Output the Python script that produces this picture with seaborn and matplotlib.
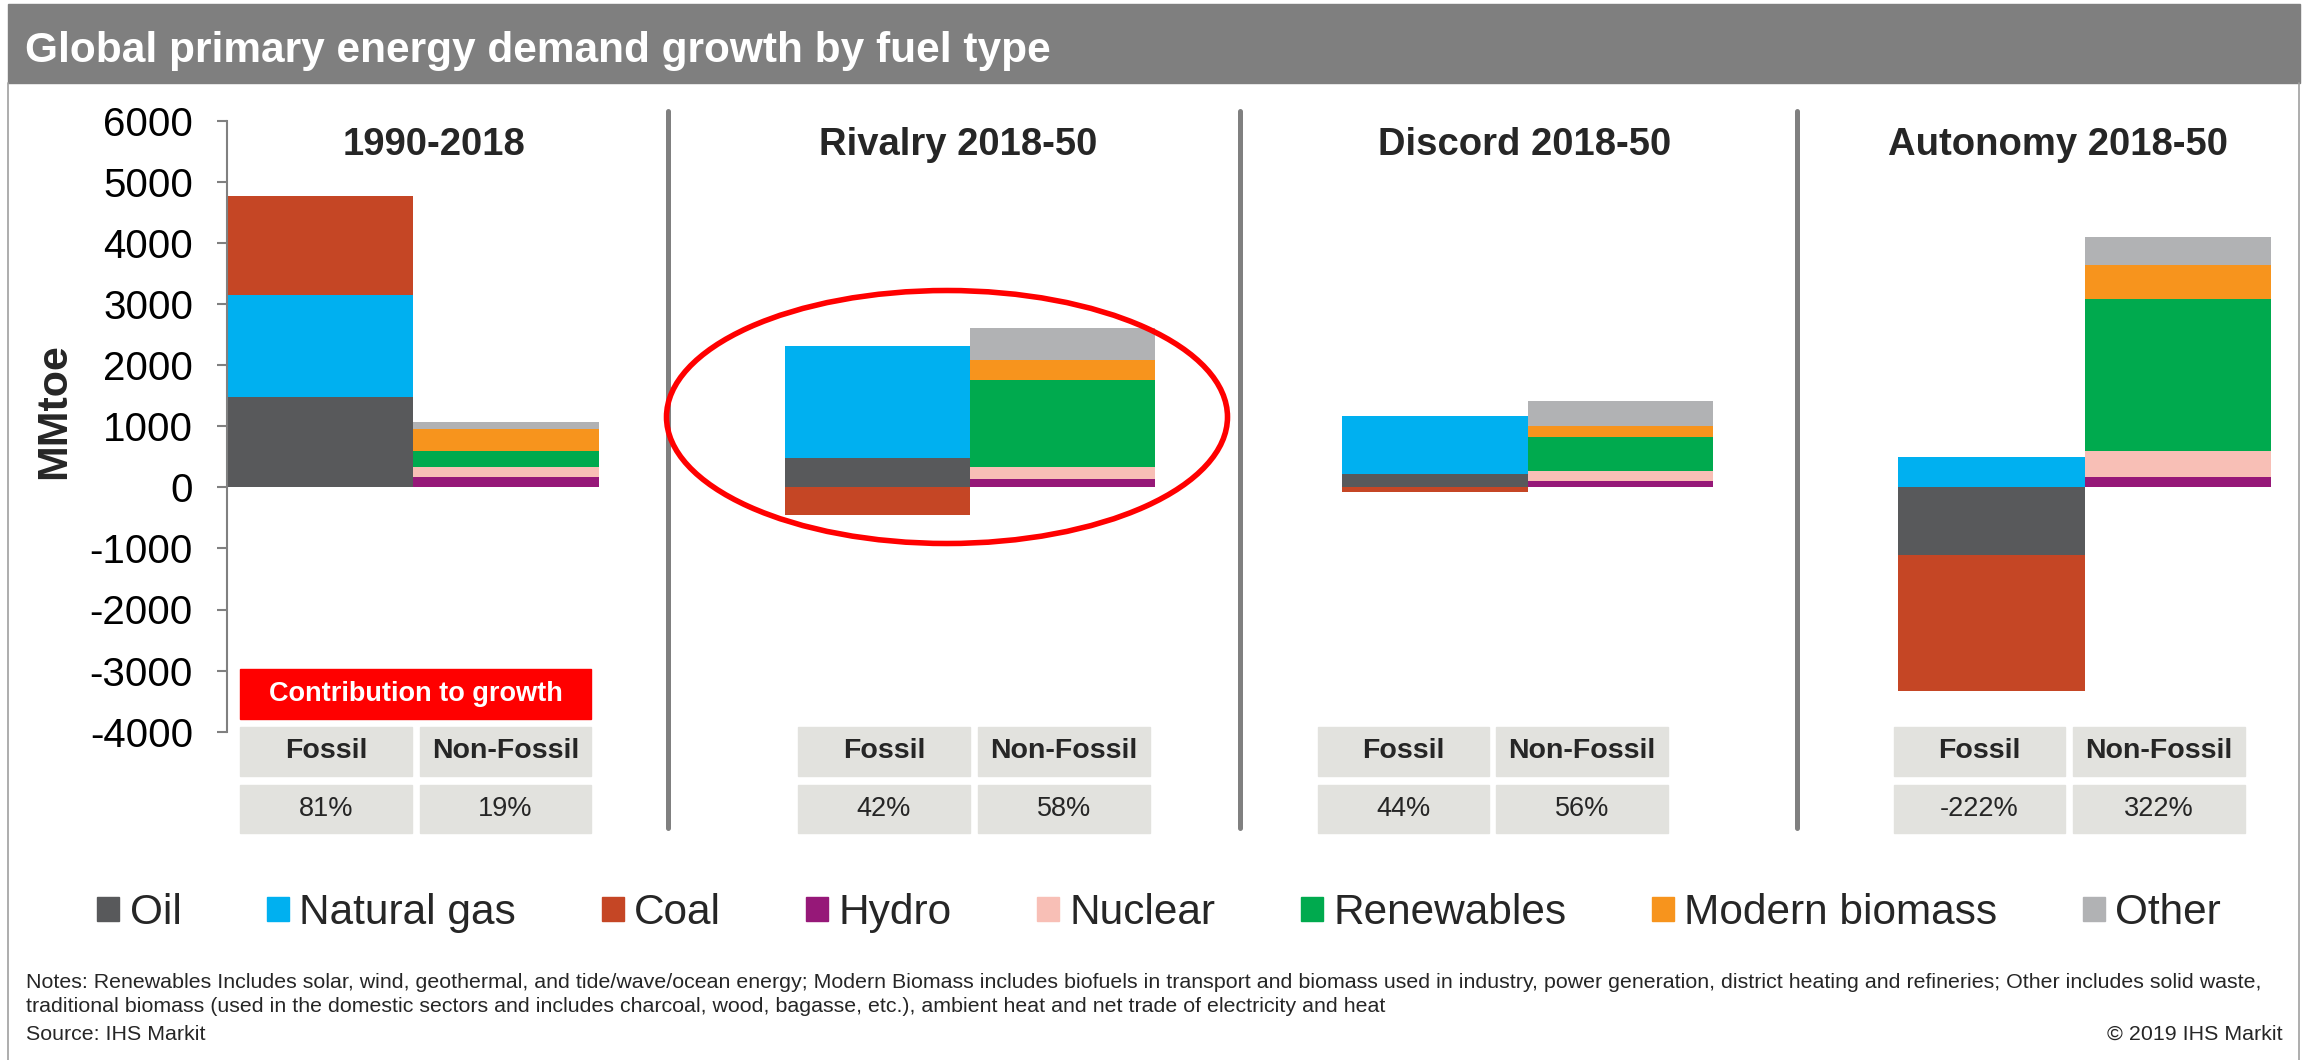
import pandas as pd
import seaborn as sns
import matplotlib.pyplot as plt
from matplotlib.patches import Rectangle, Ellipse, Patch
from matplotlib.lines import Line2D

# ---- data (MMtoe) ----
scenarios = ['1990-2018', 'Rivalry 2018-50', 'Discord 2018-50', 'Autonomy 2018-50']
groups = ['Fossil', 'Non-Fossil']
fuels = ['Oil', 'Natural gas', 'Coal', 'Hydro', 'Nuclear', 'Renewables', 'Modern biomass', 'Other']
fuel_group = ['Fossil'] * 3 + ['Non-Fossil'] * 5
fuel_colors = ['#58595b', '#00b0f0', '#c54625', '#961878', '#f8bfb6', '#00aa4e', '#f7941d', '#b1b2b4']

oil = [1475, 485, 225, -1110]
natural_gas = [1675, 1820, 945, 495]
coal = [1615, -455, -75, -2225]
hydro = [170, 135, 105, 165]
nuclear = [165, 195, 165, 430]
renewables = [265, 1425, 550, 2485]
modern_biomass = [360, 335, 185, 555]
other = [115, 520, 415, 465]

fossil_share = ['81%', '42%', '44%', '-222%']
nonfossil_share = ['19%', '58%', '56%', '322%']
yticks = list(range(-4000, 6001, 1000))

title = 'Global primary energy demand growth by fuel type'
notes = ['Notes: Renewables Includes solar, wind, geothermal, and tide/wave/ocean energy; Modern Biomass includes '
         'biofuels in transport and biomass used in industry, power generation, district heating and refineries; '
         'Other includes solid waste,',
         'traditional biomass (used in the domestic sectors and includes charcoal, wood, bagasse, etc.), '
         'ambient heat and net trade of electricity and heat']

# stack positives upwards and negatives downwards within each bar
series = [oil, natural_gas, coal, hydro, nuclear, renewables, modern_biomass, other]
rows = []
for i, scen in enumerate(scenarios):
    pos = {g: 0 for g in groups}
    neg = {g: 0 for g in groups}
    for fuel, grp, vals in zip(fuels, fuel_group, series):
        v = vals[i]
        if v >= 0:
            rows.append((scen, grp, fuel, v, pos[grp]))
            pos[grp] += v
        else:
            rows.append((scen, grp, fuel, v, neg[grp]))
            neg[grp] += v
df = pd.DataFrame(rows, columns=['scenario', 'group', 'fuel', 'value', 'bottom'])

# ---- figure ----
sns.set_theme(style='white')
plt.rcParams['font.family'] = ['Liberation Sans', 'DejaVu Sans']
plt.rcParams['axes.unicode_minus'] = False

W, H = 2305, 1060
fig = plt.figure(figsize=(W / 100, H / 100), dpi=100)


def fx(x):
    return x / W


def fy(y):
    return 1 - y / H


# title band and frame
fig.add_artist(Rectangle((fx(8), fy(83)), fx(2300) - fx(8), fy(4) - fy(83),
                         transform=fig.transFigure, color='#7f7f7f', zorder=0))
fig.text(fx(25), fy(62), title, color='white', fontsize=30.5, fontweight='bold', va='baseline')
for xl in (8, 2299):
    fig.add_artist(Line2D([fx(xl), fx(xl)], [fy(83), 0], transform=fig.transFigure,
                          color='#a0a0a0', lw=1.2))

# panels
panel_px = [(227, 599), (785, 1155), (1342, 1713), (1898, 2271)]
title_cx = [434, 958, 1525, 2058]
y_top, y_bot = 120.7, 731.7

for i, scen in enumerate(scenarios):
    x0, x1 = panel_px[i]
    ax = fig.add_axes([fx(x0), fy(y_bot), (x1 - x0) / W, (y_bot - y_top) / H])
    d = df[df['scenario'] == scen]
    for fuel, color in zip(fuels, fuel_colors):
        sub = d[d['fuel'] == fuel]
        sns.barplot(data=sub, x='group', y='value', order=groups, bottom=sub['bottom'].values,
                    color=color, saturation=1, width=1, errorbar=None, linewidth=0, ax=ax)
    ax.set_xlim(-0.5, 1.5)
    ax.set_ylim(-4000, 6000)
    ax.set_xlabel('')
    ax.set_ylabel('')
    ax.set_xticks([])
    for s in ('top', 'right', 'bottom'):
        ax.spines[s].set_visible(False)
    if i == 0:
        ax.set_yticks(yticks)
        ax.spines['left'].set_color('#808080')
        ax.spines['left'].set_linewidth(1.5)
        ax.tick_params(axis='y', left=True, length=7.5, width=1.5, color='#808080',
                       pad=17, labelsize=29, labelcolor='black')
    else:
        ax.spines['left'].set_visible(False)
        ax.set_yticks([])
    ax.patch.set_alpha(0)
    fig.text(fx(title_cx[i]), fy(155), scen, fontsize=27.5, fontweight='bold',
             ha='center', va='baseline')

fig.text(fx(54), fy(411), 'MMtoe', fontsize=31, fontweight='bold', rotation=90,
         ha='center', va='center')

# dividers between panels
for xd in (668, 1240, 1797):
    fig.add_artist(Line2D([fx(xd), fx(xd)], [fy(111), fy(828)], transform=fig.transFigure,
                          color='#808080', lw=3.6))

# highlight ellipse around Rivalry
fig.add_artist(Ellipse((fx(947), fy(417)), 561 / W, 253 / H, transform=fig.transFigure,
                       fill=False, edgecolor='#ff0000', lw=4, zorder=5))

# contribution table
fig.add_artist(Rectangle((fx(240), fy(719)), (591 - 240) / W, 50 / H,
                         transform=fig.transFigure, color='#ff0000'))
fig.text(fx(415.5), fy(694), 'Contribution to growth', color='white', fontsize=19.5,
         fontweight='bold', ha='center', va='center')
box_px = [(240, 412, 420, 591), (798, 970, 978, 1150), (1318, 1489, 1496, 1668),
          (1894, 2065, 2073, 2245)]
for i in range(4):
    a0, a1, b0, b1 = box_px[i]
    for (c0, c1), head, val in (((a0, a1), groups[0], fossil_share[i]),
                                ((b0, b1), groups[1], nonfossil_share[i])):
        for (r0, r1), txt, wt, fs in (((727, 776), head, 'bold', 20.5),
                                      ((785, 833), val, 'normal', 19.5)):
            fig.add_artist(Rectangle((fx(c0), fy(r1)), (c1 - c0) / W, (r1 - r0) / H,
                                     transform=fig.transFigure, color='#e2e2de'))
            fig.text(fx((c0 + c1) / 2), fy((r0 + r1) / 2), txt, fontsize=fs,
                     fontweight=wt, ha='center', va='center')

# legend
handles = [Patch(color=c, label=f) for f, c in zip(fuels, fuel_colors)]
fig.legend(handles=handles, loc='center', bbox_to_anchor=(fx(1159), fy(913)), ncol=8,
           frameon=False, fontsize=30.5, handlelength=0.52, handleheight=0.52,
           handletextpad=0.24, columnspacing=2.02, borderaxespad=0)

# notes
fig.text(fx(26), fy(988), notes[0], fontsize=15.4, va='baseline')
fig.text(fx(26), fy(1012), notes[1], fontsize=15.4, va='baseline')
fig.text(fx(26), fy(1040), 'Source: IHS Markit', fontsize=15.4, va='baseline')
fig.text(fx(2283), fy(1040), '\u00a9 2019 IHS Markit', fontsize=15.4, va='baseline', ha='right')

fig.savefig('out.png', dpi=100)
